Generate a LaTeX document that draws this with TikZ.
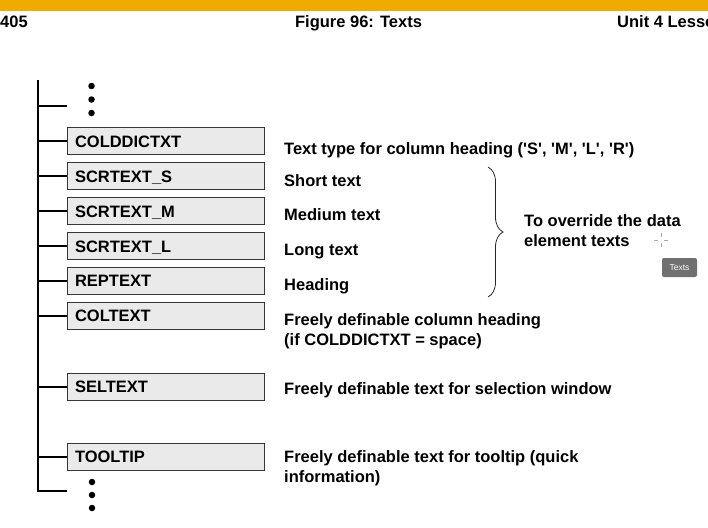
\documentclass[tikz,border=0pt]{standalone}
\usepackage{fontspec}
\setmainfont{Liberation Sans}
\usetikzlibrary{positioning,calc,decorations.pathreplacing}
\definecolor{bar_color}{RGB}{240,171,0}
\definecolor{field_color}{RGB}{234,234,234}
\definecolor{field_border}{RGB}{55,55,55}
\definecolor{tip_color}{RGB}{112,112,112}
\definecolor{cursor_color}{RGB}{170,170,170}
\tikzset{
  field/.style={
    draw=field_border, line width=0.9pt, fill=field_color,
    text width=181pt, inner xsep=8pt, inner ysep=7.5pt,
    text height=12pt, text depth=0pt, align=left,
    font=\fontsize{16.5}{19.5}\selectfont\bfseries
  },
  descr/.style={
    anchor=base west, inner sep=0pt, align=left,
    font=\fontsize{16.5}{19.5}\selectfont\bfseries
  },
  header/.style={
    inner sep=0pt, font=\fontsize{16.5}{19.5}\selectfont\bfseries
  },
  treelink/.style={line width=2pt},
  bracelink/.style={line width=0.8pt, black!85,
    decorate, decoration={brace, amplitude=15pt}},
  dot/.style={circle, fill=black, inner sep=0pt, minimum size=6.5pt},
  hint/.style={
    fill=tip_color, rounded corners=2pt, text=white,
    minimum width=35pt, minimum height=19pt, inner sep=0pt,
    font=\fontsize{8.5}{10}\selectfont
  }
}
\newcommand{\sq}{\textquotesingle}

\begin{document}
\begin{tikzpicture}[x=1pt, y=-1pt]

\useasboundingbox (0,0) rectangle (708,527);

% page header
\fill[bar_color] (0,0) rectangle (708,10.7);
\node[header, anchor=base west] (page_no) at (0,28) {405};
\node[header, anchor=base] (fig_title) at (358.5,28) {Figure 96: Texts};
\begin{scope}
\clip (0,0) rectangle (708,527);
\node[header, anchor=base west] (unit_title) at (617,28) {Unit 4 Lesson};
\end{scope}

% text fields
\node[field] (colddictxt) at (165.5,141) {COLDDICTXT};
\node[field] (scrtext_s) at (165.5,176) {SCRTEXT\_S};
\node[field] (scrtext_m) at (165.5,211) {SCRTEXT\_M};
\node[field] (scrtext_l) at (165.5,246) {SCRTEXT\_L};
\node[field] (reptext) at (165.5,280.5) {REPTEXT};
\node[field] (coltext) at (165.5,315.5) {COLTEXT};
\node[field] (seltext) at (165.5,386.5) {SELTEXT};
\node[field] (tooltip) at (165.5,456.5) {TOOLTIP};

% descriptions (multi-line ones sit on their last line)
\node[descr] (desc_colddictxt) at (284,154) {Text type for column heading (\sq S\sq, \sq M\sq, \sq L\sq, \sq R\sq)};
\node[descr] (desc_scrtext_s) at (284,186) {Short text};
\node[descr] (desc_scrtext_m) at (284,220) {Medium text};
\node[descr] (desc_scrtext_l) at (284,255) {Long text};
\node[descr] (desc_reptext) at (284,290) {Heading};
\node[descr] (desc_coltext) at (284,345) {Freely definable column heading\\(if COLDDICTXT = space)};
\node[descr] (desc_seltext) at (284,394) {Freely definable text for selection window};
\node[descr] (desc_tooltip) at (284,482) {Freely definable text for tooltip (quick\\information)};

% tree
\coordinate (trunk_top) at (38,80);
\coordinate (trunk_bot) at (38,491);
\coordinate (top_end) at (67,106);
\coordinate (bot_end) at (67,491);
\draw[treelink] (trunk_top) -- (trunk_bot) -- (bot_end);
\draw[treelink] (trunk_top |- top_end) -- (top_end);
\draw[treelink] (colddictxt.west -| trunk_top) -- (colddictxt.west);
\draw[treelink] (scrtext_s.west -| trunk_top) -- (scrtext_s.west);
\draw[treelink] (scrtext_m.west -| trunk_top) -- (scrtext_m.west);
\draw[treelink] (scrtext_l.west -| trunk_top) -- (scrtext_l.west);
\draw[treelink] (reptext.west -| trunk_top) -- (reptext.west);
\draw[treelink] (coltext.west -| trunk_top) -- (coltext.west);
\draw[treelink] (seltext.west -| trunk_top) -- (seltext.west);
\draw[treelink] (tooltip.west -| trunk_top) -- (tooltip.west);

\node[dot] (dot_top1) at (91.5,86) {};
\node[dot] (dot_top2) at (91.5,99.5) {};
\node[dot] (dot_top3) at (91.5,113) {};
\node[dot] (dot_bot1) at (92,482) {};
\node[dot] (dot_bot2) at (92,495) {};
\node[dot] (dot_bot3) at (92,508) {};

% override brace
\coordinate (brace_top) at (488,167);
\coordinate (brace_bot) at (488,297);
\draw[bracelink] (brace_top) -- (brace_bot);
\node[descr] (desc_override) at (524,246) {To override the data\\element texts};

% hover hint
\draw[cursor_color, line width=0.8pt] (661,233) -- (661,237) (661,243) -- (661,247)
  (654,240) -- (658,240) (664,240) -- (668,240);
\node[hint] (hint_texts) at (679.5,267.5) {Texts};

\end{tikzpicture}
\end{document}
